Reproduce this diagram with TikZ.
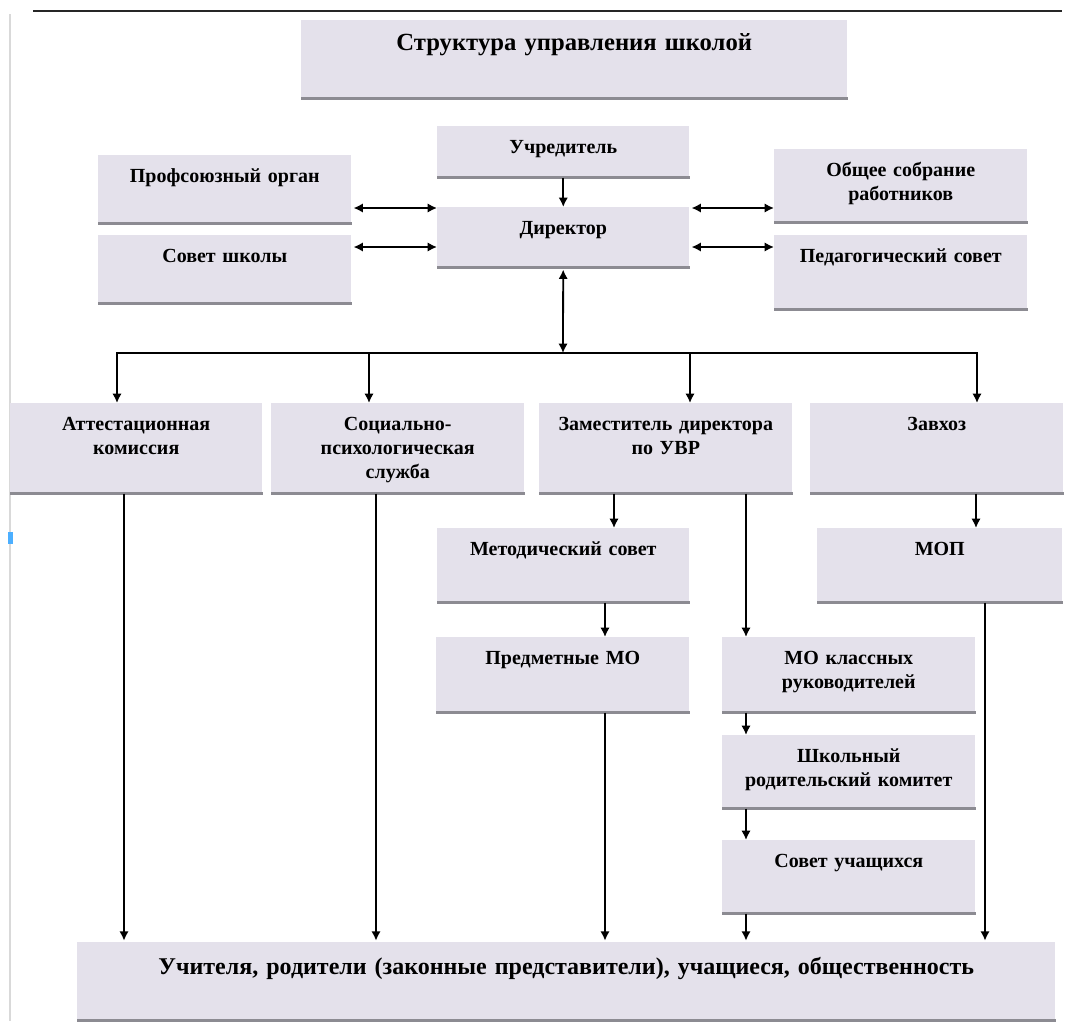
\documentclass[tikz,border=0pt]{standalone}
\usepackage{fontspec}
\setmainfont{Liberation Serif}
\usetikzlibrary{arrows.meta}
\definecolor{boxfill}{HTML}{E4E1EB}
\definecolor{boxshade}{HTML}{8C8B92}
\newcommand{\boxfont}{\fontsize{15}{18}\selectfont\bfseries}
\newcommand{\titlefont}{\fontsize{18.5}{22}\selectfont\bfseries}
\newcommand{\basefont}{\fontsize{18}{22}\selectfont\bfseries}
\tikzset{
    box/.style={
        fill=boxfill,
        anchor=north west,
        inner sep=0pt,
        text width=#1,
        align=center,
        text height=20.5pt,
        font=\boxfont,
        append after command={
            (\tikzlastnode.south west) edge[draw=boxshade, line width=2.8pt] (\tikzlastnode.south east)
        }
    },
    box/.default=189.75pt,
    link/.style={
        draw=black,
        line width=1.35pt
    }
}

\begin{document}
\begin{tikzpicture}[x=0.75pt, y=-0.75pt, >={Latex[length=7pt,width=7pt]}]
\useasboundingbox (0,0) rectangle (1067,1021);
% page frame
\draw[black!85, line width=1.2pt] (33,11) -- (1062,11);
\draw[black!15, line width=1pt] (10,14) -- (10,1021);
\fill[blue!45!cyan!70] (8,532) rectangle (13,544);

% top level
\node[box=409.5pt, font=\titlefont, text height=23pt, text depth=35.5pt] (title) at (301,20) {Структура управления школой};
\node[box=189pt, text depth=17.75pt] (uchr) at (437,126) {Учредитель};
\node[box=189pt, text depth=24.5pt] (dir) at (437,207) {Директор};
\node[box, text depth=30.5pt] (prof) at (98,155) {Профсоюзный орган};
\node[box, text depth=30.5pt] (sovsh) at (98,235) {Совет школы};
\node[box, text depth=34.25pt] (obsh) at (774,149) {Общее собрание\\работников};
\node[box, text depth=35pt] (ped) at (774,235) {Педагогический совет};

% second level
\node[box=189pt, text depth=47pt] (att) at (10,403) {Аттестационная\\комиссия};
\node[box, text depth=47pt] (soc) at (271,403) {Социально-\\психологическая\\служба};
\node[box, text depth=47pt] (zam) at (539,403) {Заместитель директора\\по УВР};
\node[box, text depth=47pt] (zav) at (810,403) {Завхоз};

% third level
\node[box=189pt, text depth=35pt] (metod) at (437,528) {Методический совет};
\node[box=183.75pt, text depth=35pt] (mop) at (817,528) {МОП};
\node[box, text depth=35.75pt] (predm) at (436,637) {Предметные МО};
\node[box, text depth=35.75pt] (mokl) at (722,637) {МО классных\\руководителей};
\node[box, text depth=34.25pt] (shkrod) at (722,735) {Школьный\\родительский комитет};
\node[box, text depth=34.25pt] (sovuch) at (722,840) {Совет учащихся};

% bottom
\node[box=733.5pt, font=\basefont, text height=24pt, text depth=34.5pt] (bot) at (77,942) {Учителя, родители (законные представители), учащиеся, общественность};

\coordinate (r1) at (0,208);
\coordinate (r2) at (0,247);
\coordinate (hub) at (563,353);
\coordinate (b1) at (117,353);
\coordinate (b2) at (369,353);
\coordinate (b3) at (690,353);
\coordinate (b4) at (977,353);
\coordinate (c1) at (124,0);
\coordinate (c2) at (376,0);
\coordinate (c3) at (614,0);
\coordinate (c4) at (746,0);
\coordinate (c5) at (976,0);
\coordinate (c6) at (985,0);
\coordinate (c7) at (605,0);

\draw[link,<->,shorten <=1.5pt] (prof.east |- r1) -- (dir.west |- r1);
\draw[link,<->,shorten <=1.5pt] (sovsh.east |- r2) -- (dir.west |- r2);
\draw[link,<->,shorten <=1.5pt] (dir.east |- r1) -- (obsh.west |- r1);
\draw[link,<->,shorten <=1.5pt] (dir.east |- r2) -- (ped.west |- r2);
\draw[link,->] (uchr) -- (dir);
\draw[link,<->,shorten <=1.5pt] (dir) -- (hub);

\draw[link,->] (hub) -- (b1) -- (b1 |- att.north);
\draw[link,->] (hub) -- (b4) -- (b4 |- zav.north);
\draw[link,->] (b2) -- (b2 |- soc.north);
\draw[link,->] (b3) -- (b3 |- zam.north);

\draw[link,->,shorten >=1pt] (att.south -| c1) -- (bot.north -| c1);
\draw[link,->,shorten >=1pt] (soc.south -| c2) -- (bot.north -| c2);
\draw[link,->] (zam.south -| c3) -- (metod.north -| c3);
\draw[link,->] (zam.south -| c4) -- (mokl.north -| c4);
\draw[link,->] (metod.south -| c7) -- (predm.north -| c7);
\draw[link,->,shorten >=1pt] (predm.south -| c7) -- (bot.north -| c7);
\draw[link,->] (mokl.south -| c4) -- (shkrod.north -| c4);
\draw[link,->] (shkrod.south -| c4) -- (sovuch.north -| c4);
\draw[link,->,shorten >=1pt] (sovuch.south -| c4) -- (bot.north -| c4);
\draw[link,->] (zav.south -| c5) -- (mop.north -| c5);
\draw[link,->,shorten >=1pt] (mop.south -| c6) -- (bot.north -| c6);
\end{tikzpicture}
\end{document}
